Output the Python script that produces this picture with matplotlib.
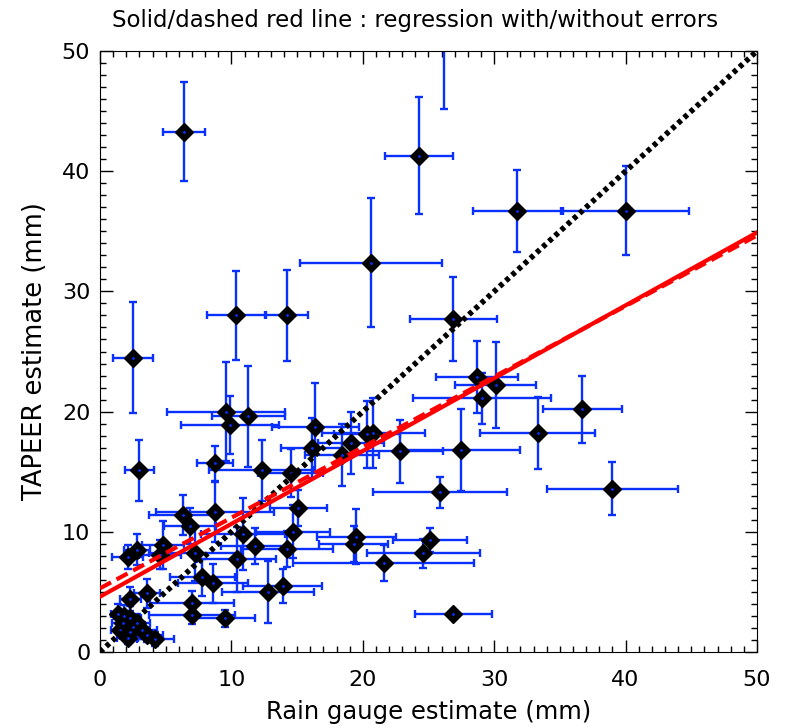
import numpy as np
import matplotlib
matplotlib.use("Agg")
import matplotlib.pyplot as plt
from matplotlib.ticker import MultipleLocator

# rain gauge (x) vs TAPEER (y) estimates, mm, with 1-sigma errors
gauge = [6.4, 24.3, 26.2, 31.7, 40.0, 20.6, 10.35, 14.2, 26.9, 2.5,
         28.7, 30.1, 29.1, 36.7, 33.3, 27.5, 22.8, 25.9, 39.0, 9.6,
         11.3, 9.9, 16.4, 16.1, 19.1, 18.4, 20.3, 20.8, 12.3, 14.5,
         3.0, 8.75, 8.75, 6.3, 6.85, 15.1, 10.9, 11.8, 14.7, 14.2,
         10.4, 7.2, 2.8, 2.1, 4.8, 4.6, 7.8, 8.6, 12.8, 13.9,
         3.6, 2.3, 7.0, 7.0, 9.5, 19.5, 19.3, 25.1, 24.6, 21.6,
         26.9, 1.4, 1.75, 2.3, 1.5, 2.3, 2.1, 2.8, 3.2, 3.6,
         4.2, 2.5, 1.8]
tapeer = [43.3, 41.3, 51.5, 36.7, 36.7, 32.4, 28.0, 28.0, 27.7, 24.5,
          22.9, 22.2, 21.1, 20.2, 18.2, 16.8, 16.7, 13.3, 13.6, 20.0,
          19.6, 18.9, 18.7, 17.0, 17.4, 16.4, 18.1, 18.2, 15.1, 14.9,
          15.1, 15.7, 11.65, 11.4, 10.5, 12.0, 9.8, 8.8, 10.0, 8.6,
          7.7, 8.2, 8.5, 7.9, 8.9, 8.1, 6.2, 5.7, 5.0, 5.5,
          4.9, 4.4, 4.1, 3.1, 2.8, 9.6, 9.0, 9.3, 8.2, 7.4,
          3.2, 3.2, 2.4, 2.8, 1.8, 1.7, 1.2, 2.4, 1.8, 1.4,
          1.1, 2.1, 3.0]
gauge_err = [1.6, 2.6, 2.5, 3.35, 4.8, 5.4, 2.2, 1.6, 3.3, 1.5,
             3.1, 3.1, 5.25, 3.0, 4.4, 4.5, 3.3, 5.1, 5.0, 4.5,
             2.8, 3.7, 3.3, 2.3, 2.5, 2.8, 2.5, 3.9, 4.0, 2.5,
             1.1, 1.4, 4.5, 2.6, 2.0, 2.2, 3.2, 2.6, 2.8, 3.5,
             3.0, 3.5, 1.0, 1.2, 1.6, 1.6, 2.5, 2.7, 3.5, 3.0,
             1.0, 0.8, 3.2, 3.3, 2.3, 3.0, 2.6, 2.8, 4.3, 6.9,
             2.9, 0.6, 0.8, 0.8, 0.7, 0.9, 0.8, 1.0, 1.1, 1.2,
             1.4, 0.9, 0.7]
tapeer_err = [4.1, 4.9, 6.3, 3.4, 3.7, 5.4, 3.7, 3.8, 3.5, 4.6,
              3.0, 3.6, 2.1, 2.8, 3.0, 3.4, 2.6, 1.3, 2.2, 4.1,
              4.2, 2.4, 3.7, 2.5, 2.6, 2.6, 2.8, 2.9, 2.5, 2.0,
              2.5, 1.45, 2.5, 1.7, 1.5, 1.5, 3.0, 1.5, 2.2, 1.5,
              2.7, 2.3, 1.3, 1.0, 2.0, 1.2, 1.5, 1.6, 2.6, 1.4,
              1.2, 1.0, 1.0, 0.8, 0.7, 2.3, 1.5, 1.0, 1.2, 1.5,
              0.3, 0.8, 0.7, 1.0, 0.6, 0.7, 0.5, 0.8, 0.7, 0.6,
              0.6, 0.6, 0.9]

# regression coefficients (intercept, slope)
fit_with_err = (4.6, 0.606)
fit_without_err = (5.3, 0.587)

fig = plt.figure(figsize=(7.88, 7.28), dpi=100)
ax = fig.add_axes([100 / 788, 1 - 652 / 728, 657 / 788, 601 / 728])

blue = "#0a30ff"
ax.errorbar(gauge, tapeer, xerr=gauge_err, yerr=tapeer_err, fmt="none",
            ecolor=blue, elinewidth=1.7, capsize=3, capthick=1.7, zorder=2)
ax.plot(gauge, tapeer, linestyle="none", marker="D", markersize=9,
        color="black", zorder=3)
ax.plot(gauge, tapeer, linestyle="none", marker=".", markersize=2,
        color=blue, zorder=4)

xx = np.array([0, 50])
ax.plot(xx, xx, color="black", linestyle=(0, (0.8, 0.7)), linewidth=4, zorder=5)
ax.plot(xx, fit_without_err[0] + fit_without_err[1] * xx, color="red",
        linestyle=(0, (3, 1.5)), linewidth=3, zorder=6)
ax.plot(xx, fit_with_err[0] + fit_with_err[1] * xx, color="red",
        linewidth=3, zorder=7)

ax.set_xlim(0, 50)
ax.set_ylim(0, 50)
ax.xaxis.set_major_locator(MultipleLocator(10))
ax.yaxis.set_major_locator(MultipleLocator(10))
ax.xaxis.set_minor_locator(MultipleLocator(1))
ax.yaxis.set_minor_locator(MultipleLocator(1))
ax.tick_params(which="both", direction="in", top=True, right=True, width=1)
ax.tick_params(which="major", length=9)
ax.tick_params(which="minor", length=4.5)
ax.tick_params(axis="x", labelsize=16, pad=13)
ax.tick_params(axis="y", labelsize=16, pad=7)

ax.set_xlabel("Rain gauge estimate (mm)", fontsize=17.5, labelpad=7)
ax.set_ylabel("TAPEER estimate (mm)", fontsize=18.5, labelpad=10)
fig.text(415 / 788, 1 - 20 / 728,
         "Solid/dashed red line : regression with/without errors",
         fontsize=16.5, ha="center", va="center")

fig.savefig("out.png", dpi=100)
